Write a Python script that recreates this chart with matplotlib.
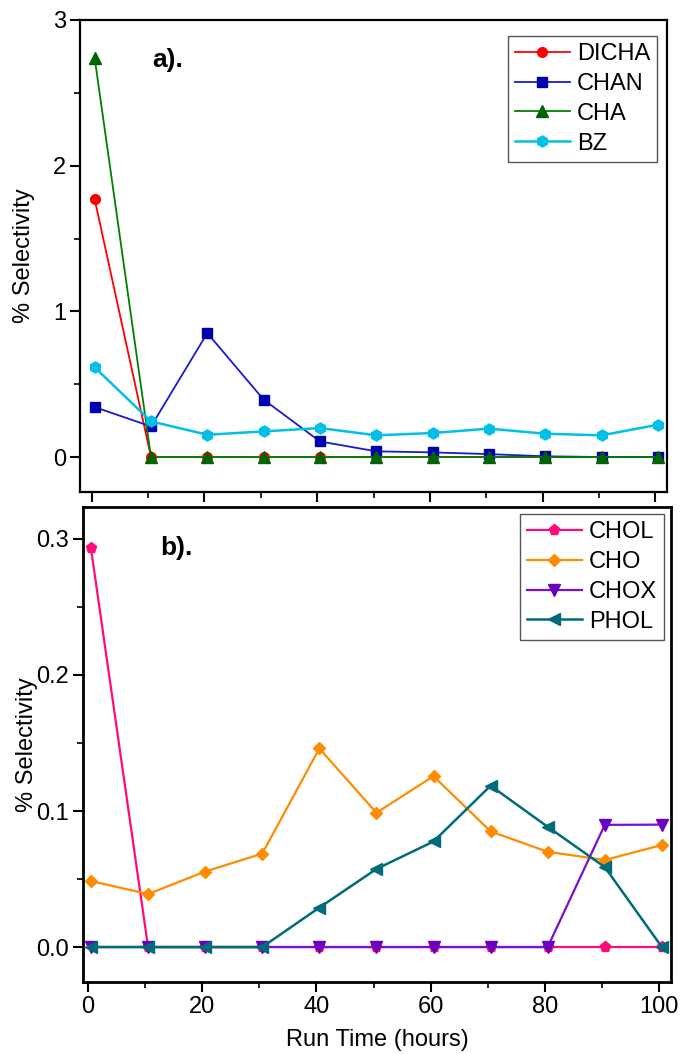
import matplotlib
matplotlib.use('Agg')
import matplotlib.pyplot as plt
from matplotlib.ticker import MultipleLocator, FormatStrFormatter

plt.rcParams['font.family'] = ['Liberation Sans', 'DejaVu Sans']
plt.rcParams['font.size'] = 17

# run time (hours)
hours = [0.5, 10.5, 20.5, 30.5, 40.5, 50.5, 60.5, 70.5, 80.5, 90.5, 100.5]

# panel a) selectivity (%)
dicha = [1.77, 0, 0, 0, 0, 0, 0, 0, 0, 0, 0]
chan = [0.343, 0.21, 0.851, 0.394, 0.107, 0.039, 0.032, 0.02, 0.005, 0.0, 0.0]
cha = [2.74, 0, 0, 0, 0, 0, 0, 0, 0, 0, 0]
bz = [0.616, 0.245, 0.153, 0.176, 0.199, 0.149, 0.165, 0.195, 0.16, 0.149, 0.222]

# panel b) selectivity (%)
chol = [0.293, 0, 0, 0, 0, 0, 0, 0, 0, 0, 0]
cho = [0.0485, 0.039, 0.0555, 0.0687, 0.146, 0.0987, 0.1256, 0.085, 0.070, 0.064, 0.075]
chox = [0, 0, 0, 0, 0, 0, 0, 0, 0, 0.0898, 0.09]
phol = [0, 0, 0, 0, 0.029, 0.0574, 0.0776, 0.1186, 0.0884, 0.0588, 0]

W, H = 681, 1054
fig = plt.figure(figsize=(W / 100, H / 100), dpi=100)

ax1 = fig.add_axes([80 / W, 1 - 492 / H, 587 / W, 472 / H])
ax2 = fig.add_axes([83 / W, 1 - 982 / H, 588 / W, 475 / H])

lw = 1.3
ax1.plot(hours, dicha, '-o', color='#ff0000', lw=lw, ms=7, label='DICHA')
ax1.plot(hours, chan, '-s', color='#1a1acc', mfc='#0000b0', mec='#0000b0', lw=lw, ms=6.5, label='CHAN')
ax1.plot(hours, cha, '-^', color='#008000', mfc='#006400', mec='#006400', lw=lw, ms=8, label='CHA')
ax1.plot(hours, bz, '-h', color='#00c0e8', lw=1.8, ms=8, label='BZ')

ax2.plot(hours, chol, '-p', color='#ff0a78', lw=1.6, ms=8, label='CHOL')
ax2.plot(hours, cho, '-D', color='#ff8c00', lw=1.6, ms=6.5, label='CHO')
ax2.plot(hours, chox, '-v', color='#7a0fd0', mfc='#6a00c0', mec='#6a00c0', lw=1.6, ms=8, label='CHOX')
ax2.plot(hours, phol, '-<', color='#006b7a', lw=1.8, ms=8, label='PHOL')

ax1.set_xlim(-2.1, 102.1)
ax1.set_ylim(-0.24, 3)
ax1.yaxis.set_major_locator(MultipleLocator(1))
ax1.yaxis.set_minor_locator(MultipleLocator(0.5))
ax1.xaxis.set_major_locator(MultipleLocator(20))
ax1.xaxis.set_minor_locator(MultipleLocator(10))
ax1.tick_params(axis='x', labelbottom=False)

ax2.set_xlim(-0.9, 102.1)
ax2.set_ylim(-0.0257, 0.3235)
ax2.yaxis.set_major_locator(MultipleLocator(0.1))
ax2.yaxis.set_minor_locator(MultipleLocator(0.05))
ax2.yaxis.set_major_formatter(FormatStrFormatter('%.1f'))
ax2.xaxis.set_major_locator(MultipleLocator(20))
ax2.xaxis.set_minor_locator(MultipleLocator(10))

for ax, sw in ((ax1, 1.6), (ax2, 2.0)):
    for s in ax.spines.values():
        s.set_linewidth(sw)
    ax.tick_params(which='major', direction='out', length=7, width=1.5, labelsize=17, pad=3)
    ax.tick_params(which='minor', direction='out', length=4.5, width=1.2)
    ax.set_ylabel('% Selectivity', fontsize=17)
    ax.yaxis.set_label_coords(-0.077, 0.5)

ax2.set_xlabel('Run Time (hours)', fontsize=17, labelpad=8)

ax1.text(0.123, 0.915, 'a).', transform=ax1.transAxes, fontsize=19,
         fontweight='bold', va='center', ha='left')
ax2.text(0.131, 0.914, 'b).', transform=ax2.transAxes, fontsize=19,
         fontweight='bold', va='center', ha='left')

leg_kw = dict(fontsize=17, handlelength=2.3, handletextpad=0.3, labelspacing=0.33,
              borderpad=0.3, borderaxespad=0, fancybox=False, framealpha=1,
              edgecolor='#555555')
l1 = ax1.legend(loc='upper right', bbox_to_anchor=(0.983, 0.966), **leg_kw)
l2 = ax2.legend(loc='upper right', bbox_to_anchor=(0.988, 0.985), **leg_kw)
for lg in (l1, l2):
    lg.get_frame().set_linewidth(1.0)

fig.savefig('out.png', dpi=100)
